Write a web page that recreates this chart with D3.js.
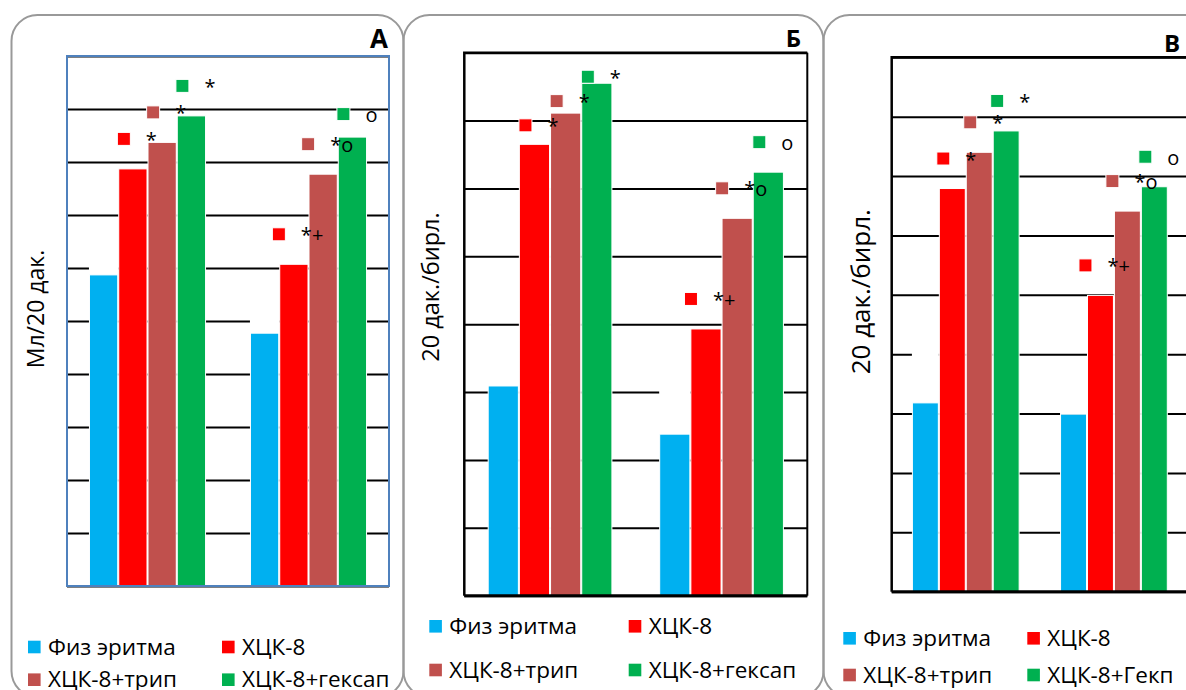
<!DOCTYPE html>
<html>
<head>
<meta charset="utf-8">
<script src="https://cdn.jsdelivr.net/npm/d3@7"></script>
<style>
  html, body { margin: 0; padding: 0; background: #fff; }
  svg { display: block; font-family: "Open Sans", sans-serif; }
</style>
</head>
<body>
<svg id="chart" width="1186" height="690"></svg>
<script>
// groups have no visible names in the figure
const groups = ['g1', 'g2'];
const seriesNames = ['Физ эритма', 'ХЦК-8', 'ХЦК-8+трип', 'ХЦК-8+гексап'];
const seriesNamesC = ['Физ эритма', 'ХЦК-8', 'ХЦК-8+трип', 'ХЦК-8+Гекп'];
const colors = ['#00B0F0', '#FF0000', '#C0504D', '#00B050'];

// values read in gridline units (no tick labels in the original)
const valuesA = [[5.87, 7.87, 8.37, 8.87], [4.77, 6.07, 7.77, 8.47]];
const valuesB = [[3.09, 6.65, 7.11, 7.55], [2.38, 3.93, 5.56, 6.24]];
const valuesC = [[3.18, 6.79, 7.40, 7.76], [2.99, 4.99, 6.41, 6.82]];
const marks = [['', '*', '*', '*'], ['', '*+', '*o', 'o']];

const yMaxA = 10, yMaxB = 8, yMaxC = 9;

const svg = d3.select('#chart');

const panels = [
  { letter: 'А', names: seriesNames, values: valuesA, yMax: yMaxA,
    box: [11.5, 15, 392, 682], frame: [67, 56, 389, 586], frameColor: '#4F81BD',
    labelDy: [[0, -30, -30, -30], [0, -30, -30, -23]],
    title: 'Мл/20 дак.', titleX: 43.5, titleY: 309, titleSize: 23,
    letterX: 388, letterY: 47.7, letterSize: 26,
    legend: { x: 28, y: 647, col: 194, row: 32.7 } },
  { letter: 'Б', names: seriesNames, values: valuesB, yMax: yMaxB,
    box: [403.5, 15, 420, 682], frame: [464.3, 52.7, 807.3, 595.7], frameColor: '#000',
    labelDy: [[0, -19, -12, -6.5], [0, -30, -30, -30]],
    title: '20 дак./бирл.', titleX: 438.5, titleY: 287, titleSize: 23.5,
    letterX: 801, letterY: 46.7, letterSize: 24,
    legend: { x: 429.3, y: 626.3, col: 199.4, row: 43.7 } },
  { letter: 'В', names: seriesNamesC, values: valuesC, yMax: yMaxC,
    box: [823.5, 15, 420, 682], frame: [891.7, 57.3, 1188, 591.7], frameColor: '#000',
    labelDy: [[0, -30, -30, -30], [0, -30, -30, -30]],
    title: '20 дак./бирл.', titleX: 870, titleY: 291.7, titleSize: 26,
    letterX: 1180, letterY: 52.3, letterSize: 24,
    legend: { x: 843.3, y: 638.3, col: 184, row: 36.7 } }
];

panels.forEach(p => drawPanel(p));

function drawPanel(p) {
  const g = svg.append('g');
  const [left, top, right, bottom] = p.frame;

  // rounded outline of the panel
  g.append('rect')
    .attr('x', p.box[0]).attr('y', p.box[1])
    .attr('width', p.box[2]).attr('height', p.box[3])
    .attr('rx', 26).attr('ry', 26)
    .attr('fill', 'none').attr('stroke', '#999').attr('stroke-width', 2);

  const x0 = d3.scaleBand().domain(groups).range([left, right]).padding(0);
  const x1 = d3.scaleBand().domain(d3.range(4)).range([0, x0.bandwidth()])
    .paddingInner(0).paddingOuter(0.75);
  const y = d3.scaleLinear().domain([0, p.yMax]).range([bottom, top]);

  // gridlines
  g.append('g')
    .attr('transform', `translate(${left},0)`)
    .call(d3.axisLeft(y).ticks(p.yMax).tickSize(-(right - left)).tickFormat(''))
    .call(a => a.select('.domain').remove())
    .selectAll('line')
    .attr('stroke', '#000').attr('stroke-width', 2);

  const rows = [];
  groups.forEach((grp, gi) => {
    p.values[gi].forEach((v, si) => {
      rows.push({ grp, gi, si, v, mark: marks[gi][si], dy: p.labelDy[gi][si] });
    });
  });

  // the blue bars hide the gridlines a little above them
  g.selectAll('.mask').data(rows.filter(d => d.si === 0)).enter().append('rect')
    .attr('x', d => x0(d.grp) + x1(d.si))
    .attr('y', d => y(d.v) - 55)
    .attr('width', x1.bandwidth())
    .attr('height', 55)
    .attr('fill', '#fff');

  g.selectAll('.bar').data(rows).enter().append('rect')
    .attr('x', d => x0(d.grp) + x1(d.si) + 0.5)
    .attr('y', d => y(d.v))
    .attr('width', x1.bandwidth() - 1)
    .attr('height', d => bottom - y(d.v))
    .attr('fill', d => colors[d.si])
    .attr('stroke', '#fff').attr('stroke-width', 1);

  // significance labels: coloured key square + symbol
  const lab = g.selectAll('.lab').data(rows.filter(d => d.mark)).enter().append('g')
    .attr('transform', d => {
      const cx = x0(d.grp) + x1(d.si) + x1.bandwidth() / 2 - 3 - 6 * d.mark.length;
      return `translate(${cx},${y(d.v) + d.dy})`;
    });
  lab.append('rect')
    .attr('x', -6.5).attr('y', -6.5).attr('width', 13).attr('height', 13)
    .attr('fill', d => colors[d.si])
    .attr('stroke', '#fff').attr('stroke-width', 1);
  lab.append('text')
    .attr('x', 22).attr('y', 8)
    .attr('font-size', 20)
    .attr('fill', '#000')
    .text(d => d.mark);

  // plot frame
  if (p.frameColor === '#000') {
    g.append('path')
      .attr('d', `M${right},${top}H${left}V${bottom}`)
      .attr('fill', 'none').attr('stroke', '#000').attr('stroke-width', 2.5);
    g.append('path')
      .attr('d', `M${right},${top}V${bottom}`)
      .attr('fill', 'none').attr('stroke', '#000').attr('stroke-width', 2);
    g.append('line')
      .attr('x1', left).attr('x2', right).attr('y1', bottom).attr('y2', bottom)
      .attr('stroke', '#000').attr('stroke-width', 3);
  } else {
    g.append('rect')
      .attr('x', left).attr('y', top)
      .attr('width', right - left).attr('height', bottom - top)
      .attr('fill', 'none').attr('stroke', p.frameColor).attr('stroke-width', 2);
  }

  // y axis title
  g.append('text')
    .attr('transform', `translate(${p.titleX},${p.titleY}) rotate(-90)`)
    .attr('text-anchor', 'middle')
    .attr('font-size', p.titleSize)
    .attr('fill', '#000')
    .text(p.title);

  // panel letter
  g.append('text')
    .attr('x', p.letterX).attr('y', p.letterY)
    .attr('text-anchor', 'end')
    .attr('font-size', p.letterSize)
    .attr('font-weight', 'bold')
    .attr('fill', '#000')
    .text(p.letter);

  // legend, two columns
  const lg = g.selectAll('.lg').data(p.names).enter().append('g')
    .attr('transform', (d, i) =>
      `translate(${p.legend.x + (i % 2) * p.legend.col},${p.legend.y + Math.floor(i / 2) * p.legend.row})`);
  lg.append('rect')
    .attr('x', 0).attr('y', -6.3).attr('width', 12.6).attr('height', 12.6)
    .attr('fill', (d, i) => colors[i]);
  lg.append('text')
    .attr('x', 20).attr('y', 7.5)
    .attr('font-size', 22.5)
    .attr('fill', '#000')
    .text(d => d);
}
</script>
</body>
</html>
